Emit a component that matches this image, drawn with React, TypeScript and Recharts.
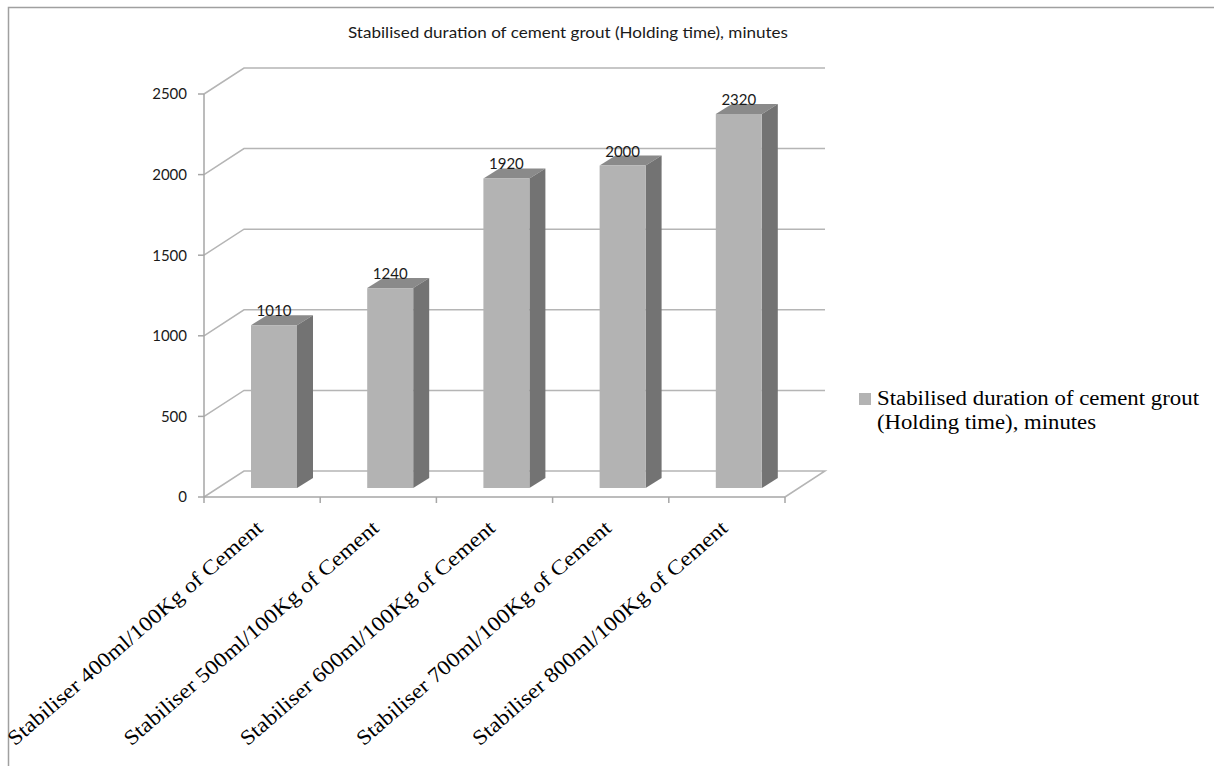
import { BarChart, Bar, XAxis, YAxis, CartesianGrid, Legend, LabelList, Customized } from 'recharts';

const categories = [
  'Stabiliser 400ml/100Kg of Cement',
  'Stabiliser 500ml/100Kg of Cement',
  'Stabiliser 600ml/100Kg of Cement',
  'Stabiliser 700ml/100Kg of Cement',
  'Stabiliser 800ml/100Kg of Cement',
];
const holdingTime = [1010, 1240, 1920, 2000, 2320];
const yTicks = [0, 500, 1000, 1500, 2000, 2500];
const seriesName = 'Stabilised duration of cement grout (Holding time), minutes';
const legendLines = ['Stabilised duration of cement grout', '(Holding time), minutes'];

const data = categories.map((category, i) => ({ category, value: holdingTime[i] }));

const W = 1214;
const H = 766;
const MARGIN = { top: 94, right: 429, bottom: 0, left: 144 };
const Y_AXIS_W = 60;
const X_AXIS_H = 269;
const PLOT_LEFT = MARGIN.left + Y_AXIS_W;
const PLOT_RIGHT = W - MARGIN.right;
const PLOT_BOTTOM = H - X_AXIS_H;
const BAND = (PLOT_RIGHT - PLOT_LEFT) / categories.length;

// fake 3d: back wall offset, bar offset inside the depth, bar thickness
const WALL = { dx: 40, dy: -26 };
const BAR_OFF = { dx: 12, dy: -9 };
const BAR_DEPTH = { dx: 16, dy: -10 };

const GRID = '#b5b5b5';
const AXIS = '#a6a6a6';
const SANS = 'Lato, "Noto Sans", sans-serif';
const SERIF = '"Liberation Serif", "Times New Roman", serif';

function gridLine(p: any) {
  const { x1, x2, y1 } = p;
  let d = `M${x1},${y1} L${x1 + WALL.dx},${y1 + WALL.dy} L${x2 + WALL.dx},${y1 + WALL.dy}`;
  if (Math.abs(y1 - PLOT_BOTTOM) < 1) d += ` L${x2},${y1}`;
  return <path key={`g-${p.index}`} d={d} fill="none" stroke={GRID} strokeWidth={1.5} />;
}

function Bar3D(props: any) {
  const { x, y, width, height } = props;
  const fx = x + BAR_OFF.dx;
  const fy = y + BAR_OFF.dy;
  const sx = BAR_DEPTH.dx;
  const sy = BAR_DEPTH.dy;
  return (
    <g>
      <polygon
        points={`${fx},${fy} ${fx + sx},${fy + sy} ${fx + width + sx},${fy + sy} ${fx + width},${fy}`}
        fill="#8a8a8a"
      />
      <polygon
        points={`${fx + width},${fy} ${fx + width + sx},${fy + sy} ${fx + width + sx},${fy + sy + height} ${fx + width},${fy + height}`}
        fill="#737373"
      />
      <rect x={fx} y={fy} width={width} height={height} fill="#b3b3b3" />
    </g>
  );
}

function ValueLabel(props: any) {
  const { x, y, width, value } = props;
  return (
    <text x={x + BAR_OFF.dx + width / 2} y={y - 18} textAnchor="middle" fontFamily={SANS} fontSize={15} fill="#1a1a1a">
      {value}
    </text>
  );
}

function CategoryTick(props: any) {
  const { payload, index } = props;
  const cx = payload.coordinate;
  const tx = cx + 2;
  const ty = PLOT_BOTTOM + 33;
  return (
    <g>
      <line x1={cx - BAND / 2} x2={cx - BAND / 2} y1={PLOT_BOTTOM} y2={PLOT_BOTTOM + 6} stroke={AXIS} strokeWidth={1.5} />
      {index === categories.length - 1 && (
        <line x1={cx + BAND / 2} x2={cx + BAND / 2} y1={PLOT_BOTTOM} y2={PLOT_BOTTOM + 6} stroke={AXIS} strokeWidth={1.5} />
      )}
      <text
        x={tx}
        y={ty}
        transform={`rotate(-41, ${tx}, ${ty})`}
        textAnchor="end"
        fontFamily={SERIF}
        fontSize={21}
        fill="#000"
        textLength={330}
        lengthAdjust="spacingAndGlyphs"
      >
        {payload.value}
      </text>
    </g>
  );
}

function LegendContent(props: any) {
  const color = props.payload?.[0]?.color ?? '#b3b3b3';
  return (
    <svg width={355} height={60} style={{ overflow: 'visible', display: 'block' }}>
      <rect x={0} y={7} width={12} height={12} fill={color} />
      <text x={18} y={19} fontFamily={SERIF} fontSize={20} fill="#000" textLength={322} lengthAdjust="spacingAndGlyphs">
        {legendLines[0]}
      </text>
      <text x={18} y={43} fontFamily={SERIF} fontSize={20} fill="#000" textLength={219} lengthAdjust="spacingAndGlyphs">
        {legendLines[1]}
      </text>
    </svg>
  );
}

function Decor() {
  return (
    <g>
      <path d={`M8.5,${H} L8.5,7.5 L${W},7.5`} fill="none" stroke="#a0a0a0" strokeWidth={1.5} />
      <text x={568} y={38} textAnchor="middle" fontFamily={SANS} fontSize={16} fill="#1a1a1a" textLength={440} lengthAdjust="spacingAndGlyphs">
        {seriesName}
      </text>
    </g>
  );
}

export default function App() {
  return (
    <>
      <style>{'body{margin:0;overflow:hidden;background:#fff}'}</style>
      <BarChart width={W} height={H} data={data} margin={MARGIN} barSize={46}>
        <Customized component={Decor} />
        <CartesianGrid horizontal={gridLine} vertical={false} />
        <XAxis
          dataKey="category"
          height={X_AXIS_H}
          interval={0}
          tickLine={false}
          axisLine={{ stroke: AXIS, strokeWidth: 1.5 }}
          tick={<CategoryTick />}
        />
        <YAxis
          width={Y_AXIS_W}
          domain={[0, 2500]}
          ticks={yTicks}
          interval={0}
          tickSize={6}
          tickMargin={11}
          axisLine={{ stroke: AXIS, strokeWidth: 1.5 }}
          tickLine={{ stroke: AXIS, strokeWidth: 1.5 }}
          tick={{ fill: '#1a1a1a', fontSize: 15, fontFamily: SANS }}
        />
        <Legend
          layout="horizontal"
          verticalAlign="middle"
          align="center"
          wrapperStyle={{ left: 859, top: 386, right: 'auto', width: 355 }}
          content={LegendContent}
        />
        <Bar dataKey="value" name={seriesName} fill="#b3b3b3" shape={Bar3D} isAnimationActive={false}>
          <LabelList dataKey="value" content={ValueLabel} />
        </Bar>
      </BarChart>
    </>
  );
}
